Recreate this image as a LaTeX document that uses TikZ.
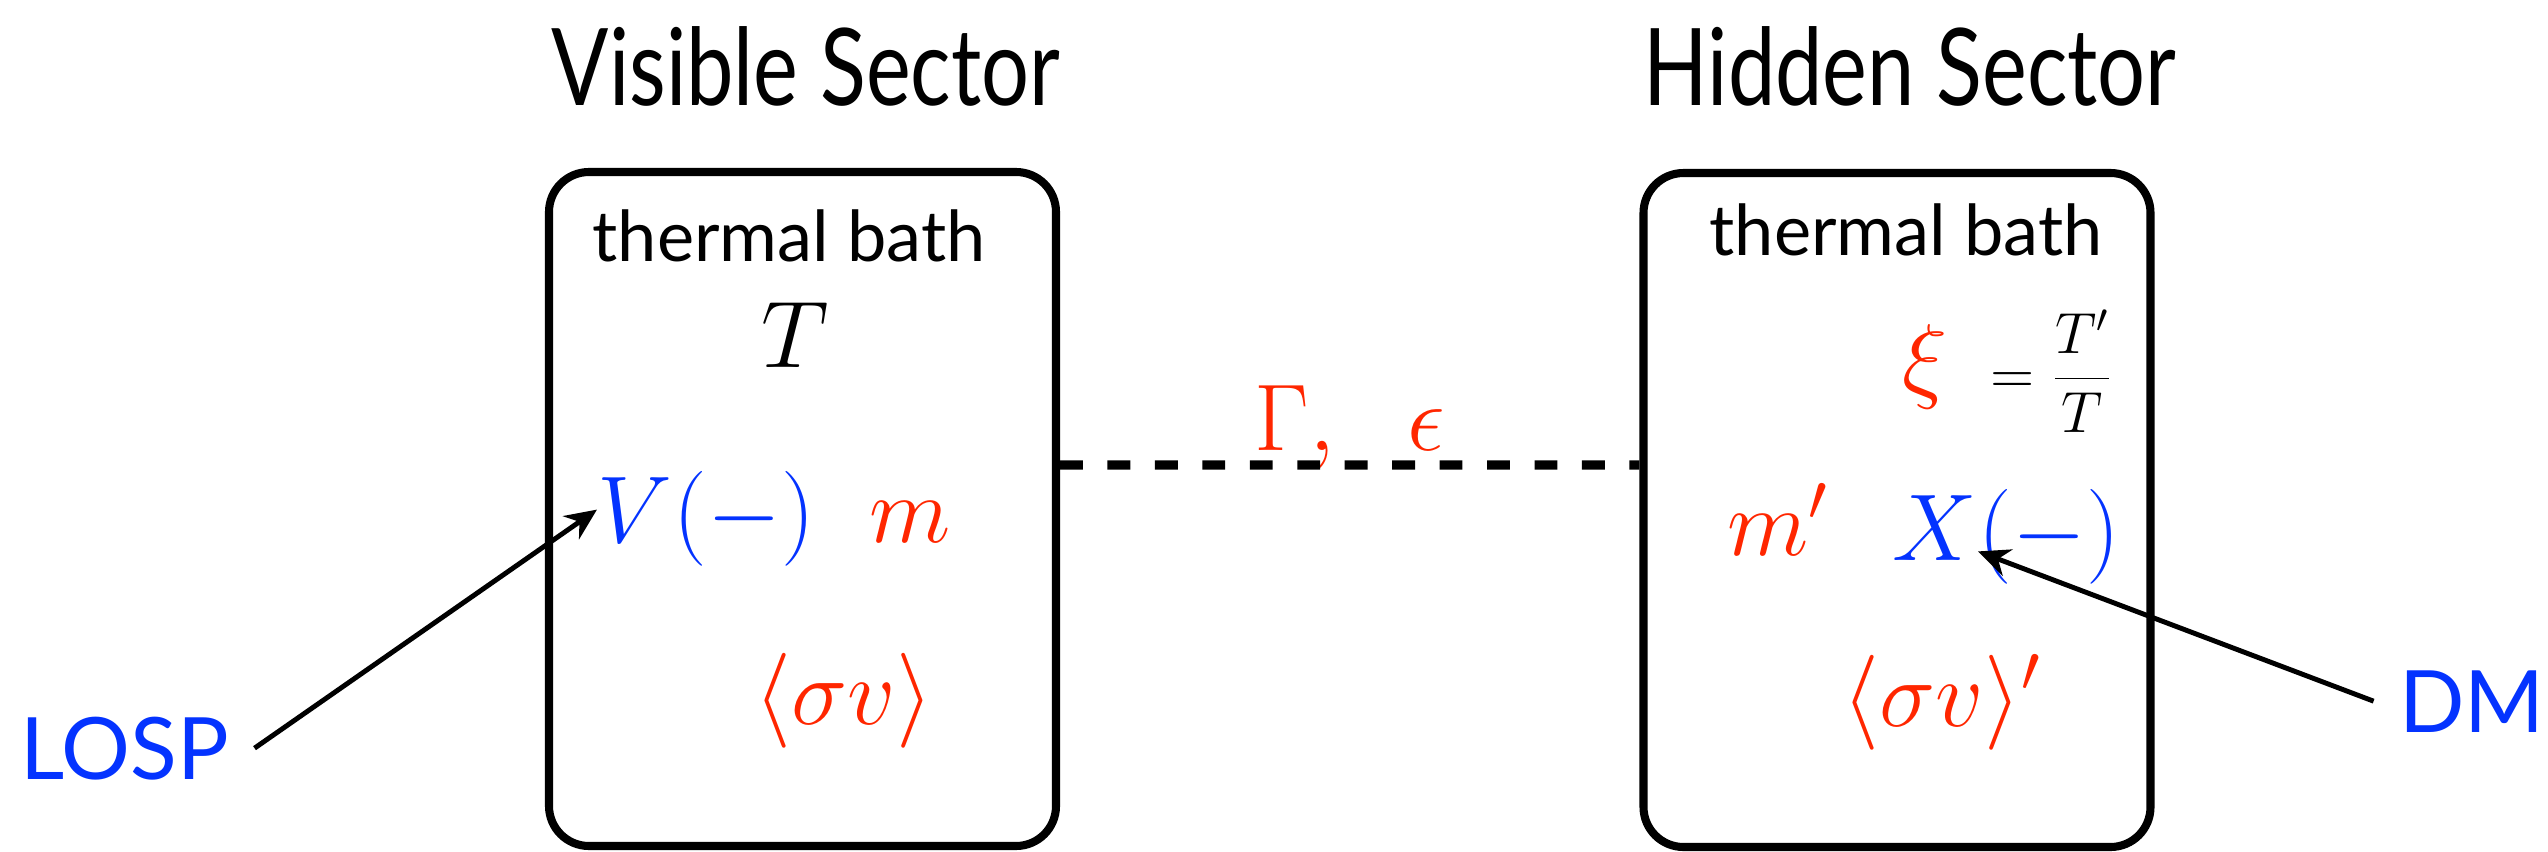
\RequirePackage{fix-cm}
\documentclass[tikz,border=0pt]{standalone}
\usepackage[no-math]{fontspec}
\setmainfont{Lato}
\newfontfamily\narrowsans[FakeStretch=0.79]{Lato}
\usetikzlibrary{arrows.meta,positioning,calc}
\definecolor{hotred}{RGB}{255,38,0}
\definecolor{partblue}{RGB}{4,51,255}

\begin{document}
\begin{tikzpicture}[>={Stealth[length=9pt, width=8pt]}, sector/.style={font=\narrowsans\fontsize{30.5}{36}\selectfont, inner sep=0pt, anchor=base}, bath/.style={draw, line width=2.3pt, rounded corners=0.4cm, minimum width=5.07cm, minimum height=6.74cm}, hdr/.style={font=\fontsize{20}{24}\selectfont, inner sep=0pt, anchor=base}, sym/.style={font=\fontsize{27}{32}\selectfont, inner sep=0pt, anchor=base}, tag/.style={font=\fontsize{24.5}{29}\selectfont, text=partblue, inner xsep=0.25cm, inner ysep=0pt, anchor=base}, link/.style={line width=2.6pt, dash pattern=on 6.5pt off 7pt}, ptr/.style={->, line width=1.4pt}]
\useasboundingbox (0,0) rectangle (25.48,-8.51);
\node[sector] (vtitle) at (8.06,-1.05) {Visible Sector};
\node[sector] (htitle) at (19.10,-1.05) {Hidden Sector};
\node[bath] (vis) at (8.025,-5.09) {};
\node[bath] (hid) at (18.97,-5.10) {};
% visible side
\node[hdr] (vbath) at (7.89,-2.61) {thermal bath};
\node[sym] (vtemp) at (7.95,-3.67) {$T$};
\node[sym, text=partblue, anchor=base west] (vlsp) at (5.97,-5.42) {$V$};
\node[sym, text=partblue, anchor=base west] (vsgn) at (vlsp.base east) {$(-)$};
\node[sym, text=hotred] (vmass) at (9.10,-5.42) {$m$};
\node[sym, text=hotred] (vcross) at (8.44,-7.24) {$\langle\sigma v\rangle$};
% hidden side
\node[hdr] (hbath) at (19.06,-2.55) {thermal bath};
\node[sym, text=hotred] (xi) at (19.25,-3.90) {$\xi$};
\node[font=\fontsize{16.5}{20}\selectfont, inner sep=0pt, anchor=base] (ratio) at (20.52,-3.93) {$\displaystyle=\frac{T'}{T}$};
\node[sym, text=hotred] (hmass) at (17.78,-5.55) {$m'$};
\node[sym, text=partblue, anchor=base west] (xdm) at (18.92,-5.60) {$X$};
\node[sym, text=partblue, anchor=base west] (xsgn) at (xdm.base east) {$(-)$};
\node[sym, text=hotred] (hcross) at (19.42,-7.26) {$\langle\sigma v\rangle'$};
% portal
\node[sym, text=hotred] (coup) at (13.50,-4.50) {$\Gamma,\hspace{0.6em}\epsilon$};
\draw[link] ($(vis.east)+(0,0.44)$) -- ($(hid.west)+(0,0.45)$);
% labels
\node[tag] (losp) at (1.245,-7.79) {LOSP};
\node[tag] (dm) at (24.72,-7.32) {DM};
\draw[ptr] (losp.east) -- (vlsp.west);
\draw[ptr] (dm.west) -- (xdm.-29);
\end{tikzpicture}
\end{document}
